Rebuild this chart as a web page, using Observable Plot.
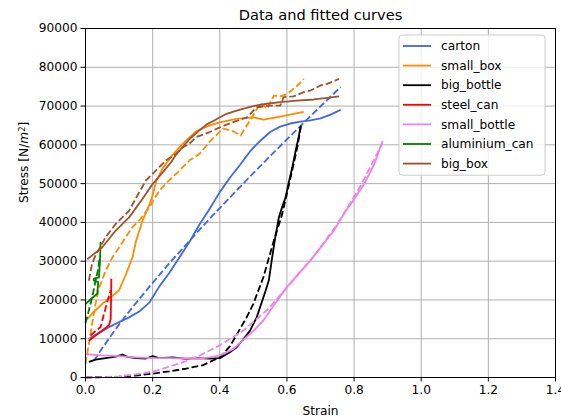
<!DOCTYPE html>
<html><head><meta charset="utf-8">
<script src="https://cdn.jsdelivr.net/npm/d3@7"></script>
<script src="https://cdn.jsdelivr.net/npm/@observablehq/plot@0.6"></script>
<style>body{margin:0;background:#fff;} svg{display:block}</style>
</head><body><div id="chart"></div>
<script>
const title = "Data and fitted curves";
const xLabel = "Strain";
const yLabel = "Stress [N/m²]";
const xTicks = [0, 0.2, 0.4, 0.6, 0.8, 1.0, 1.2, 1.4];
const yTicks = [0, 10000, 20000, 30000, 40000, 50000, 60000, 70000, 80000, 90000];
const names = ["carton", "small_box", "big_bottle", "steel_can", "small_bottle", "aluminium_can", "big_box"];
const colors = ["#4169e1", "#ff8c00", "#000000", "#ff0000", "#ee82ee", "#008000", "#a0522d"];

// measured data (solid) and fitted curves (dashed): [strain, stress]
const carton = [[0.01,10000],[0.04,11500],[0.07,13000],[0.1,14300],[0.13,15500],[0.16,17000],[0.19,19300],[0.22,23500],[0.25,27000],[0.28,31000],[0.31,35000],[0.34,39500],[0.37,43500],[0.40,47800],[0.43,51500],[0.46,54800],[0.49,58300],[0.52,61000],[0.55,63300],[0.58,64700],[0.61,65500],[0.64,66000],[0.67,66300],[0.70,66800],[0.73,67800],[0.76,69000]];
const cartonFit = [[0.025,4300],[0.05,7600],[0.1,13700],[0.15,19200],[0.2,24400],[0.25,29500],[0.3,34300],[0.35,39100],[0.4,43700],[0.45,48200],[0.5,52700],[0.55,57100],[0.6,61400],[0.65,65700],[0.7,69900],[0.76,74900]];

const smallBox = [[0.005,15000],[0.02,16500],[0.05,19000],[0.08,21000],[0.1,22500],[0.12,26500],[0.14,31000],[0.15,35000],[0.17,40500],[0.19,44500],[0.2,47000],[0.21,50500],[0.23,54000],[0.26,57500],[0.29,60300],[0.33,63500],[0.37,65000],[0.40,65800],[0.45,66700],[0.50,67100],[0.53,66500],[0.58,67300],[0.65,68500]];
const smallBoxFit = [[0.0,3500],[0.01,8700],[0.02,14000],[0.03,19000],[0.04,23000],[0.06,27500],[0.08,31000],[0.10,33500],[0.12,36200],[0.14,38800],[0.16,40500],[0.19,43900],[0.22,48200],[0.245,50500],[0.27,52500],[0.31,56000],[0.34,57700],[0.372,61000],[0.41,64200],[0.44,63500],[0.462,62400],[0.496,67100],[0.521,70800],[0.541,69300],[0.561,72700],[0.58,72500],[0.601,73100],[0.631,75300],[0.65,77000]];

const bigBottle = [[0.01,4000],[0.03,4600],[0.06,5000],[0.09,5400],[0.11,5900],[0.125,5300],[0.15,5000],[0.18,4900],[0.2,5500],[0.22,5000],[0.26,5200],[0.3,4800],[0.33,5000],[0.37,4900],[0.4,5000],[0.43,6500],[0.45,7800],[0.47,9800],[0.49,12100],[0.51,15500],[0.52,18100],[0.535,22000],[0.546,25000],[0.556,31000],[0.565,36000],[0.576,41300],[0.586,44000],[0.596,46500],[0.606,50500],[0.616,54200],[0.626,58500],[0.635,62000],[0.64,64500]];
const bigBottleFit = [[0.0,0],[0.1,200],[0.15,500],[0.2,1000],[0.25,1600],[0.3,2300],[0.35,3200],[0.4,5200],[0.43,8000],[0.45,11000],[0.48,15500],[0.5,19000],[0.53,25900],[0.56,35000],[0.586,42200],[0.611,51600],[0.631,59400],[0.643,65400]];

const steelCan = [[0.01,9500],[0.03,10800],[0.05,12100],[0.07,13500],[0.075,15000],[0.076,20000],[0.077,25500]];
const steelCanFit = [[0.015,10800],[0.03,12000],[0.045,13000],[0.055,16400],[0.065,19500],[0.075,22500]];

const smallBottle = [[0.0,6000],[0.05,5700],[0.1,5500],[0.15,5200],[0.2,5000],[0.25,5000],[0.3,4900],[0.34,4900],[0.37,5200],[0.40,5700],[0.44,7300],[0.47,9700],[0.5,12000],[0.53,14700],[0.56,18500],[0.6,23300],[0.635,26800],[0.67,30200],[0.7,33500],[0.74,37900],[0.77,42200],[0.8,46000],[0.83,49900],[0.86,55000],[0.885,61000]];
const smallBottleFit = [[0.0,0],[0.05,50],[0.1,300],[0.15,800],[0.2,1500],[0.25,2800],[0.3,4200],[0.343,5800],[0.4,8300],[0.47,12100],[0.54,17300],[0.61,24200],[0.68,31200],[0.75,39500],[0.82,49500],[0.885,60500]];

const aluminiumCan = [[0.0,19000],[0.02,20500],[0.035,21600],[0.038,24600],[0.025,25000],[0.025,25500],[0.040,25800],[0.043,30000],[0.045,35000]];
const aluminiumCanFit = [[0.0,14000],[0.01,17300],[0.02,20700],[0.03,25000],[0.038,28000],[0.042,31000]];

const bigBox = [[0.005,30500],[0.02,31500],[0.05,33600],[0.09,37900],[0.13,41300],[0.17,46100],[0.2,49900],[0.23,52900],[0.255,55500],[0.27,57500],[0.29,59500],[0.31,61500],[0.34,63800],[0.36,65200],[0.39,66600],[0.42,68000],[0.46,69100],[0.5,70000],[0.54,70600],[0.58,71000],[0.63,71400],[0.68,71700],[0.72,72100],[0.755,72500]];
const bigBoxFit = [[0.01,25000],[0.02,29500],[0.03,31500],[0.06,36200],[0.09,39600],[0.13,43000],[0.155,47000],[0.18,50800],[0.21,53400],[0.24,56000],[0.27,57700],[0.29,59400],[0.31,60300],[0.33,62000],[0.37,63300],[0.40,64500],[0.45,66200],[0.48,67000],[0.51,69700],[0.55,70100],[0.58,70100],[0.59,72300],[0.62,72500],[0.65,73600],[0.67,74000],[0.70,75300],[0.72,75700],[0.755,77000]];

const series = [
  {data: carton, fit: cartonFit},
  {data: smallBox, fit: smallBoxFit},
  {data: bigBottle, fit: bigBottleFit},
  {data: steelCan, fit: steelCanFit},
  {data: smallBottle, fit: smallBottleFit},
  {data: aluminiumCan, fit: aluminiumCanFit},
  {data: bigBox, fit: bigBoxFit}
].map((s, i) => ({...s, name: names[i], color: colors[i]}));

const W = 561, H = 417, mL = 85, mR = 6, mT = 28, mB = 40;
const lw = 1.83;
const lineMarks = series.flatMap(s => [
  Plot.line(s.data, {x: d => d[0], y: d => d[1], stroke: s.color, strokeWidth: lw, strokeLinejoin: "round", strokeLinecap: "butt"}),
  Plot.line(s.fit, {x: d => d[0], y: d => d[1], stroke: s.color, strokeWidth: lw, strokeDasharray: "6.8,2.9", strokeLinecap: "butt"})
]);

const plot = Plot.plot({
  width: W, height: H,
  marginLeft: mL, marginRight: mR, marginTop: mT, marginBottom: mB,
  style: {fontFamily: "'DejaVu Sans', sans-serif", fontSize: "12.2px", background: "white", color: "black"},
  x: {domain: [0, 1.4], label: null},
  y: {domain: [0, 90000], label: null},
  marks: [
    Plot.gridX(xTicks, {stroke: "#b0b0b0", strokeOpacity: 1, strokeWidth: 1}),
    Plot.gridY(yTicks, {stroke: "#b0b0b0", strokeOpacity: 1, strokeWidth: 1}),
    ...lineMarks,
    Plot.frame({stroke: "black", strokeWidth: 1}),
    Plot.axisX(xTicks, {tickSize: 4.5, tickPadding: 3.5, tickFormat: d => d.toFixed(1), fontSize: 12.2, label: null}),
    Plot.axisY(yTicks, {tickSize: 4.5, tickPadding: 3.5, tickFormat: d => String(d), fontSize: 12.2, label: null}),
    Plot.text([xLabel], {frameAnchor: "bottom", lineAnchor: "middle", dy: 34, fontSize: 12.2, text: d => d}),
    Plot.text([yLabel], {frameAnchor: "left", lineAnchor: "middle", dx: -61, rotate: -90, fontSize: 12.2, text: d => d}),
    Plot.text([title], {frameAnchor: "top", lineAnchor: "middle", dy: -13, fontSize: 14.6, text: d => d})
  ]
});

const svg = d3.select(plot);
// mathtext-style y label: N/m^2 with italic m and superscript 2
svg.selectAll("text").filter(function() { return this.textContent === yLabel; }).each(function() {
  const t = d3.select(this);
  t.text(null);
  t.append("tspan").text("Stress [N/");
  t.append("tspan").attr("font-style", "italic").text("m");
  t.append("tspan").attr("font-size", "8.5px").attr("dy", "-0.45em").text("2");
  t.append("tspan").attr("dy", "0.32em").text("]");
});

// legend (upper right, matplotlib style)
const legendRight = W - mR - 10, legendTop = mT + 7;
const lgW = 146, rowH = 19.6;
const lg = svg.append("g").attr("font-family", "'DejaVu Sans', sans-serif").attr("font-size", "12.2px").attr("text-anchor", "start");
lg.append("rect").attr("x", legendRight - lgW).attr("y", legendTop).attr("width", lgW).attr("height", rowH * names.length + 3)
  .attr("rx", 3).style("fill", "white").style("fill-opacity", 0.8).style("stroke", "#cccccc").style("stroke-width", 1);
names.forEach((n, i) => {
  const y = legendTop + 11 + i * rowH;
  const x0 = legendRight - lgW + 4;
  lg.append("line").attr("x1", x0).attr("x2", x0 + 28).attr("y1", y).attr("y2", y).style("stroke", colors[i]).style("stroke-width", lw);
  lg.append("text").attr("x", x0 + 38).attr("y", y).attr("dy", "0.35em").style("fill", "black").style("text-anchor", "start").text(n);
});

document.getElementById("chart").appendChild(plot);
</script>
</body></html>
